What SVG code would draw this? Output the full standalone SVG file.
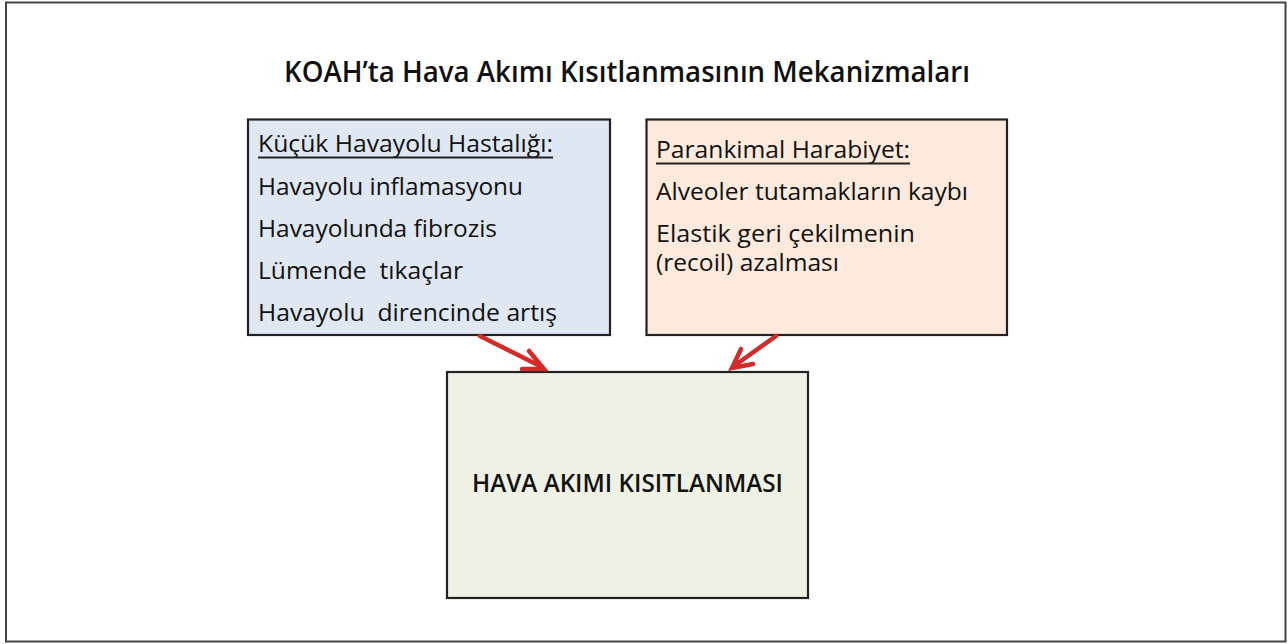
<svg xmlns="http://www.w3.org/2000/svg" width="1288" height="644" viewBox="0 0 1288 644">
<style>
text{font-family:"Open Sans","Noto Sans","Liberation Sans",sans-serif;fill:#111;}
.t{font-size:23px;}
.h{font-size:23px;}
.ul{stroke:#222;stroke-width:1.8;}
.box{stroke:#222;stroke-width:2.2;}
.arr{stroke:#d42a2a;stroke-width:4.5;fill:none;stroke-linecap:round;stroke-linejoin:miter;}
</style>
<rect x="6" y="2.5" width="1279.5" height="639" fill="#fff" stroke="#444" stroke-width="2"/>
<text x="284" y="82" font-size="28" textLength="686" lengthAdjust="spacingAndGlyphs" font-weight="600">KOAH’ta Hava Akımı Kısıtlanmasının Mekanizmaları</text>
<g id="kucuk">
<rect class="box" x="248" y="119.5" width="362" height="215.5" fill="#dfe7f3"/>
<text class="h" x="258" y="152" textLength="295" lengthAdjust="spacingAndGlyphs">Küçük Havayolu Hastalığı:</text>
<line class="ul" x1="258" y1="157.5" x2="553" y2="157.5"/>
<text class="t" x="258" y="195" textLength="265" lengthAdjust="spacingAndGlyphs">Havayolu inflamasyonu</text>
<text class="t" x="258" y="237" textLength="239" lengthAdjust="spacingAndGlyphs">Havayolunda fibrozis</text>
<text class="t" x="258" y="279" textLength="205" lengthAdjust="spacingAndGlyphs" xml:space="preserve">Lümende  tıkaçlar</text>
<text class="t" x="258" y="321" textLength="299" lengthAdjust="spacingAndGlyphs" xml:space="preserve">Havayolu  direncinde artış</text>
</g>
<g id="parankimal">
<rect class="box" x="646.5" y="119.5" width="360.5" height="215.5" fill="#fdeadc"/>
<text class="h" x="656" y="158" textLength="254" lengthAdjust="spacingAndGlyphs">Parankimal Harabiyet:</text>
<line class="ul" x1="656" y1="163.5" x2="910" y2="163.5"/>
<text class="t" x="656" y="200" textLength="312" lengthAdjust="spacingAndGlyphs">Alveoler tutamakların kaybı</text>
<text class="t" x="656" y="242" textLength="259" lengthAdjust="spacingAndGlyphs">Elastik geri çekilmenin</text>
<text class="t" x="656" y="271" textLength="183" lengthAdjust="spacingAndGlyphs">(recoil) azalması</text>
</g>
<g id="kisitlanma">
<rect class="box" x="447" y="372" width="361" height="226" fill="#eef1e4"/>
<text x="472" y="492" font-size="26" font-weight="600" textLength="311" lengthAdjust="spacingAndGlyphs">HAVA AKIMI KISITLANMASI</text>
</g>
<g id="connectors">
<path class="arr" d="M480,336 L542,367"/>
<path class="arr" d="M529,351 L544,369 L522,369"/>
<path class="arr" d="M776,336 L734,366"/>
<path class="arr" d="M741,349 L732,368 L753,364"/>
</g>
</svg>
